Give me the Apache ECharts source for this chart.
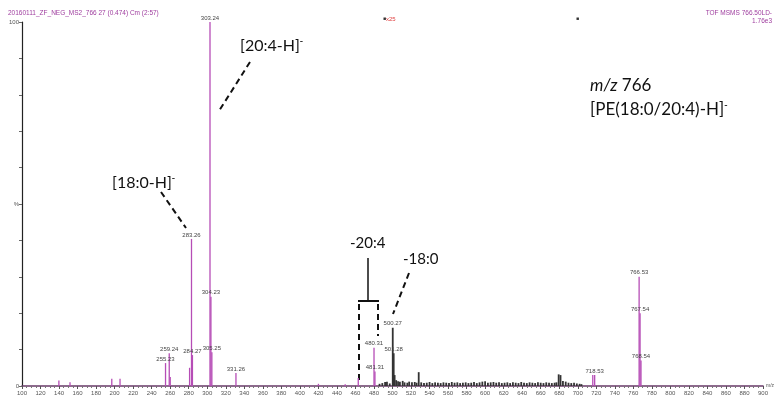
<!DOCTYPE html>
<html>
<head>
<meta charset="utf-8">
<script src="https://cdn.jsdelivr.net/npm/echarts@6/dist/echarts.min.js"></script>
<style>
  html, body { margin: 0; padding: 0; background: #fff; }
  #chart { width: 775px; height: 396px; }
</style>
</head>
<body>
<div id="chart"></div>
<script>
// fragment peaks (m/z, relative intensity %)
const purpleMz = [140.1, 152.1, 197.2, 206.1, 255.23, 259.24, 260.3, 281.2, 283.26, 284.27, 303.24, 304.23, 305.25, 331.26, 420.3, 449.2, 463.3, 480.31, 481.31, 716.5, 718.53, 766.53, 767.54, 768.54];
const purpleInt = [1.5, 1, 2, 2, 6.3, 9, 2.5, 5, 40.4, 8.5, 100, 24.5, 9.3, 3.6, 0.6, 0.5, 2.2, 10.5, 4, 3, 3, 30, 20, 7];
// magnified region (x25), drawn in black
const blackMz = [486, 489, 492, 494, 497, 500.27, 501.28, 502.3, 504, 506, 508, 511, 513, 516, 518, 521, 524, 526, 528.3, 531, 534, 537, 540, 543, 546, 549, 552, 555, 558, 561, 564, 567, 570, 573, 576, 579, 582, 585, 588, 591, 594, 597, 600, 603, 606, 609, 612, 615, 618, 621, 624, 627, 630, 633, 636, 639, 642, 645, 648, 651, 654, 657, 660, 663, 666, 669, 672, 675, 677, 679.4, 681.4, 684, 687, 690, 693, 696, 699, 702, 704];
const blackInt = [0.6, 0.8, 1.1, 1.2, 0.7, 16, 9, 3, 1.6, 1.3, 1.2, 1.4, 1, 0.9, 1.2, 1, 1.1, 0.9, 3.8, 1, 0.8, 0.9, 1.1, 0.8, 1, 0.9, 0.8, 1, 0.9, 0.8, 1.1, 0.9, 1, 0.8, 0.9, 1, 0.8, 0.9, 1.1, 0.8, 1, 1.2, 1.3, 0.9, 1, 1.1, 0.9, 1, 0.8, 0.9, 1, 0.8, 1, 0.9, 0.8, 1.1, 0.9, 0.8, 1, 0.9, 0.8, 1, 0.9, 0.8, 1, 0.9, 0.8, 0.9, 1, 3.2, 3, 1.4, 1.2, 0.9, 0.8, 0.9, 0.7, 0.6, 0.5];
const labelled = ['255.23', '259.24', '283.26', '284.27', '303.24', '304.23', '305.25', '331.26', '480.31', '481.31', '500.27', '501.28', '718.53', '766.53', '767.54', '768.54'];
const xTicks = { min: 100, max: 900, interval: 20 };

function peakData(mz, inten) {
  return mz.map((m, i) => {
    const name = m.toFixed(2);
    const item = { value: [m, inten[i]] };
    if (labelled.includes(name)) {
      item.label = { show: true, formatter: name };
    }
    return item;
  });
}

const chart = echarts.init(document.getElementById('chart'));
const peakLabel = {
  show: false, position: 'top', distance: 1,
  fontSize: 6, color: '#444', fontFamily: 'Liberation Sans'
};
const annFont = 'Lato';

chart.setOption({
  animation: false,
  grid: { left: 22, right: 12, top: 22, bottom: 10, containLabel: false },
  xAxis: {
    type: 'value', min: xTicks.min, max: xTicks.max, interval: xTicks.interval,
    axisLine: { lineStyle: { color: '#6a3a6a', width: 1.6 } },
    axisTick: { length: 3, lineStyle: { color: '#555' } },
    minorTick: { show: true, splitNumber: 4, length: 2, lineStyle: { color: '#777' } },
    axisLabel: { fontSize: 6, color: '#555', margin: 4, fontFamily: 'Liberation Sans' },
    splitLine: { show: false }
  },
  yAxis: {
    type: 'value', min: 0, max: 100, interval: 10,
    axisLine: { show: true, lineStyle: { color: '#222', width: 1.2 } },
    axisTick: { show: true, length: 3, lineStyle: { color: '#666' } },
    axisLabel: {
      fontSize: 6, color: '#555', margin: 3, fontFamily: 'Liberation Sans',
      formatter: v => v === 100 ? '100' : v === 50 ? '%' : v === 0 ? '0' : ''
    },
    splitLine: { show: false }
  },
  series: [
    {
      type: 'bar', barWidth: 1.3, barGap: '-100%',
      itemStyle: { color: '#b64db6' },
      label: peakLabel,
      data: peakData(purpleMz, purpleInt)
    },
    {
      type: 'bar', barWidth: 1.8, barGap: '-100%',
      itemStyle: { color: '#333' },
      label: peakLabel,
      data: peakData(blackMz, blackInt)
    }
  ],
  graphic: [
    { type: 'text', left: 8, top: 10, style: { text: '20160111_ZF_NEG_MS2_766 27 (0.474) Cm (2:57)', fontSize: 6.5, fill: '#a040a0', fontFamily: 'Liberation Sans' } },
    { type: 'text', x: 772, y: 9, style: { text: 'TOF MSMS 766.50LD-\n1.76e3', align: 'right', fontSize: 6.5, lineHeight: 8, fill: '#a040a0', fontFamily: 'Liberation Sans' } },
    { type: 'text', left: 383, top: 16, style: { text: '{a|\u25A0}{b|x25}', rich: { a: { fontSize: 5, fill: '#333' }, b: { fontSize: 6, fill: '#e04040' } } } },
    { type: 'text', left: 576, top: 16, style: { text: '\u25A0', fontSize: 5, fill: '#333' } },
    { type: 'text', left: 766, top: 383, style: { text: 'm/z', fontSize: 5, fill: '#555', fontFamily: 'Liberation Sans' } },
    // annotations
    { type: 'text', left: 240, top: 36, style: { text: '[20:4-H]{s|-}', fontSize: 16, fill: '#111', fontFamily: annFont, rich: { s: { fontSize: 10, padding: [0, 0, 10, 0] } } } },
    { type: 'line', shape: { x1: 250, y1: 62, x2: 219, y2: 111 }, style: { stroke: '#111', lineWidth: 2, lineDash: [6, 4] } },
    { type: 'text', left: 112, top: 173, style: { text: '[18:0-H]{s|-}', fontSize: 16, fill: '#111', fontFamily: annFont, rich: { s: { fontSize: 10, padding: [0, 0, 10, 0] } } } },
    { type: 'line', shape: { x1: 161, y1: 192, x2: 186, y2: 228 }, style: { stroke: '#111', lineWidth: 2, lineDash: [6, 4] } },
    { type: 'text', left: 590, top: 77, style: { text: '{i|m/z} 766', fontSize: 17, fill: '#111', fontFamily: annFont, rich: { i: { fontSize: 17, fontStyle: 'italic', fontFamily: annFont } } } },
    { type: 'text', left: 590, top: 100, style: { text: '[PE(18:0/20:4)-H]{s|-}', fontSize: 17, fill: '#111', fontFamily: annFont, rich: { s: { fontSize: 10, padding: [0, 0, 10, 0] } } } },
    { type: 'text', left: 350, top: 236, style: { text: '-20:4', fontSize: 15, fill: '#111', fontFamily: annFont } },
    { type: 'line', shape: { x1: 368, y1: 258, x2: 368, y2: 301 }, style: { stroke: '#111', lineWidth: 1.5 } },
    { type: 'line', shape: { x1: 358, y1: 301, x2: 379, y2: 301 }, style: { stroke: '#111', lineWidth: 2 } },
    { type: 'line', shape: { x1: 359, y1: 304, x2: 359, y2: 384 }, style: { stroke: '#111', lineWidth: 2, lineDash: [6, 4] } },
    { type: 'line', shape: { x1: 378, y1: 304, x2: 378, y2: 336 }, style: { stroke: '#111', lineWidth: 2, lineDash: [6, 4] } },
    { type: 'text', left: 403, top: 252, style: { text: '-18:0', fontSize: 15, fill: '#111', fontFamily: annFont } },
    { type: 'line', shape: { x1: 409, y1: 273, x2: 393, y2: 314 }, style: { stroke: '#111', lineWidth: 2, lineDash: [6, 4] } }
  ]
});
</script>
</body>
</html>
